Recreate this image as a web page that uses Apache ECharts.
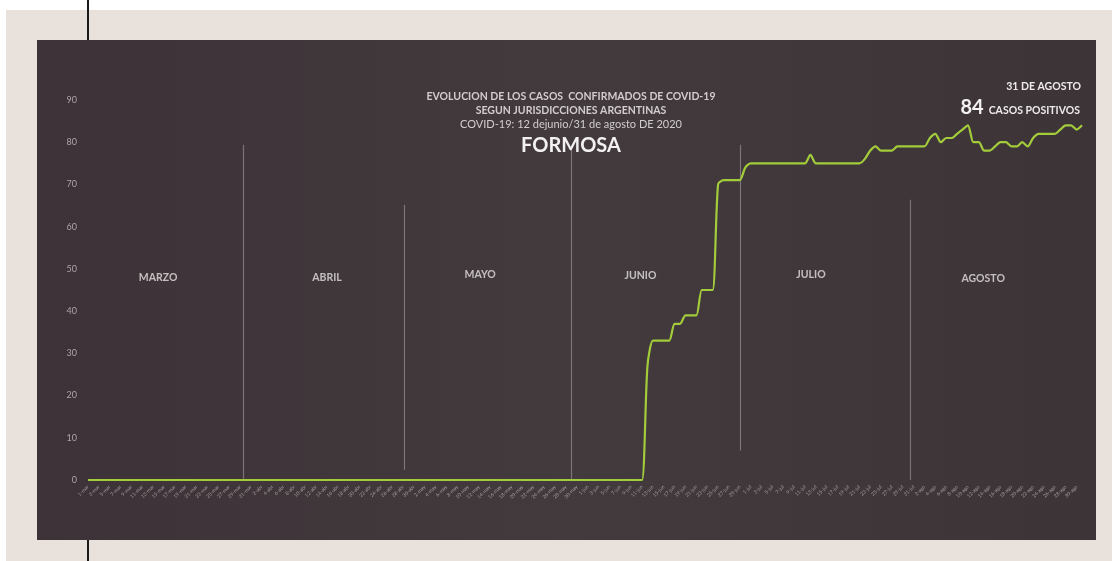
<!DOCTYPE html>
<html>
<head>
<meta charset="utf-8">
<script src="https://cdn.jsdelivr.net/npm/echarts@6/dist/echarts.min.js"></script>
<style>
  html, body { margin: 0; padding: 0; background: #ffffff; width: 1112px; height: 561px; overflow: hidden; }
  #beige { position: absolute; left: 6px; top: 10px; width: 1106px; height: 551px; background: #e8e1dc; }
  #dark { position: absolute; left: 37px; top: 40px; width: 1059px; height: 500px;
          background: linear-gradient(90deg, #3c3237 0%, #433a3e 50%, #3d3438 100%); }
  .vline { position: absolute; left: 87px; width: 2px; background: #1a1a1a; }
  #chart { position: absolute; left: 0; top: 0; width: 1112px; height: 561px; }
</style>
</head>
<body>
<div id="beige"></div>
<div id="dark"></div>
<div class="vline" style="top:0;height:40px"></div>
<div class="vline" style="top:540px;height:21px"></div>
<div id="chart"></div>
<script>
// ---- data ----
const monthNames = ['mar', 'abr', 'may', 'jun', 'jul', 'ago'];
const monthDays = [31, 30, 31, 30, 31, 31];
const dateLabels = [];
monthNames.forEach((m, k) => { for (let d = 1; d <= monthDays[k]; d++) dateLabels.push(d + '-' + m); });

// confirmed cases, 1-mar .. 31-ago (index 0..183)
const casesMarToMay = new Array(92).fill(0);          // 1-mar .. 31-may
const casesJune = [0,0,0,0,0,0,0,0,0,0,0, 27,33,33,33,33,37,37,39,39,39,45,45,45,70,71,71,71,71]; // 1-jun .. 29-jun
const casesJuly = [74,75,75,75,75,75,75,75,75,75,75,75,77,75,75,75,75,75,75,75,75,75,76,78,79,78,78,78,79,79,79,79]; // 30-jun .. 31-jul
const casesAugust = [79,79,81,82,80,81,81,82,83,84,80,80,78,78,79,80,80,79,79,80,79,81,82,82,82,82,83,84,84,83,84]; // 1-ago .. 31-ago
const cases = casesMarToMay.concat(casesJune, casesJuly, casesAugust);

const monthLabels = ['MARZO', 'ABRIL', 'MAYO', 'JUNIO', 'JULIO', 'AGOSTO'];
const monthLabelX = [12.9, 44, 72.2, 101.7, 133.1, 164.8];
const monthLabelY = [47.9, 47.9, 48.6, 48.3, 48.6, 47.6];

const dividerX = [28.5, 58.2, 89, 120, 151.4];
const dividerTop = [79.4, 65.2, 78.2, 79.4, 66.4];
const dividerBottom = [0, 2.4, 0, 7, 0];

const yTicks = [0, 10, 20, 30, 40, 50, 60, 70, 80, 90];

const titleLines = ['EVOLUCION DE LOS CASOS  CONFIRMADOS DE COVID-19', 'SEGUN JURISDICCIONES ARGENTINAS', 'COVID-19: 12 dejunio/31 de agosto DE 2020'];
const province = 'FORMOSA';
const lastDateText = '31 DE AGOSTO';
const lastValueText = '84';
const lastValueUnit = 'CASOS POSITIVOS';

// ---- chart ----
const chart = echarts.init(document.getElementById('chart'), null, { renderer: 'canvas' });
const font = 'Lato, "Open Sans", sans-serif';

const option = {
  backgroundColor: 'transparent',
  animation: false,
  title: [
    { text: titleLines[0], left: 566, top: 86, textAlign: 'center',
      textStyle: { color: '#d2cdcd', fontSize: 10.5, fontWeight: 'bold', fontFamily: font } },
    { text: titleLines[1], left: 566, top: 100, textAlign: 'center',
      textStyle: { color: '#d2cdcd', fontSize: 10.5, fontWeight: 'bold', fontFamily: font } },
    { text: titleLines[2], left: 566, top: 114, textAlign: 'center',
      textStyle: { color: '#d2cdcd', fontSize: 11, fontWeight: 'normal', fontFamily: font } },
    { text: province, left: 566, top: 131, textAlign: 'center',
      textStyle: { color: '#f2f0f0', fontSize: 20, fontWeight: 'bold', fontFamily: font } },
    { text: lastDateText, left: 1076, top: 76, textAlign: 'right',
      textStyle: { color: '#eeeaea', fontSize: 10.5, fontWeight: 'bold', fontFamily: font } },
    { text: '{n|' + lastValueText + '} {u|' + lastValueUnit + '}', left: 1075, top: 93, textAlign: 'right',
      textStyle: { rich: {
        n: { color: '#f4f2f2', fontSize: 20, fontWeight: 'bold', fontFamily: font, verticalAlign: 'bottom' },
        u: { color: '#eeeaea', fontSize: 10.5, fontWeight: 'bold', fontFamily: font, verticalAlign: 'bottom', padding: [0, 0, 2, 0] }
      } } }
  ],
  grid: { left: 88, right: 30, top: 100, bottom: 81, containLabel: false },
  xAxis: {
    type: 'value', min: 0, max: dateLabels.length - 1, interval: 2,
    axisLine: { show: false }, axisTick: { show: false }, splitLine: { show: false },
    axisLabel: {
      show: true, rotate: 45, fontSize: 5, color: '#a39b9d', margin: 6, fontFamily: font,
      showMaxLabel: false,
      formatter: v => dateLabels[v] || ''
    }
  },
  yAxis: {
    type: 'value', min: 0, max: 90, interval: 10,
    axisLine: { show: false }, axisTick: { show: false }, splitLine: { show: false },
    axisLabel: { color: '#aca5a7', fontSize: 9, margin: 11, fontFamily: font,
      formatter: v => yTicks.includes(v) ? String(v) : '' }
  },
  series: [
    {
      type: 'line',
      data: cases.map((v, i) => [i, v]),
      showSymbol: false,
      smooth: 0.25,
      lineStyle: { color: '#a3cc3a', width: 2.2 },
      z: 5,
      markLine: {
        silent: true, symbol: ['none', 'none'], label: { show: false },
        lineStyle: { color: 'rgba(215,210,212,0.4)', width: 1.2, type: 'solid' },
        data: dividerX.map((x, k) => [{ coord: [x, dividerTop[k]] }, { coord: [x, dividerBottom[k]] }])
      }
    },
    {
      type: 'scatter',
      data: monthLabels.map((m, k) => ({ value: [monthLabelX[k], monthLabelY[k]], name: m })),
      symbolSize: 0,
      silent: true,
      label: { show: true, position: 'inside', formatter: p => p.name,
        color: '#e4e0e0', fontSize: 10.5, fontWeight: 'bold', fontFamily: font }
    }
  ]
};
chart.setOption(option);
</script>
</body>
</html>
